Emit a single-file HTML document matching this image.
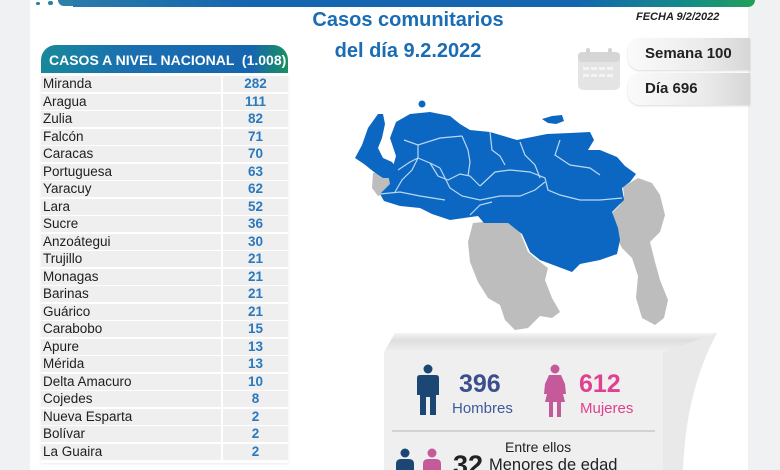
<!DOCTYPE html>
<html><head><meta charset="utf-8">
<style>
*{margin:0;padding:0;box-sizing:border-box}
html,body{width:780px;height:470px;overflow:hidden}
body{background:#f0f1f3;font-family:"Liberation Sans",sans-serif;position:relative}
.abs{position:absolute}
#card{left:30px;top:0;width:718px;height:470px;background:#fff}
#topbar{left:33px;top:0;width:722px;height:7px;background:linear-gradient(90deg,#2f7fa8 0%,#1565b0 30%,#1565b0 75%,#138a8a 90%,#22a05a 100%);border-radius:0 0 8px 0}
.title{color:#1a6cb4;font-weight:bold;font-size:20px;text-align:center;width:300px;left:258px}
#hdr{left:41px;top:45px;width:247px;height:28px;border-radius:15px 15px 0 0;background:linear-gradient(90deg,#17899a 0%,#1a6fb0 35%,#1566b0 85%,#1a9060 100%);color:#fff;font-weight:bold;font-size:14px;line-height:30px;padding-left:8px;white-space:pre}
.row{left:41px;width:247px;height:16px;font-size:13.5px;color:#1e1e1e;line-height:16px}
.row .n{position:absolute;left:0;top:0;width:180px;height:16px;background:#efefef;padding-left:2px}
.row .v{position:absolute;left:182px;top:0;width:65px;height:16px;background:#efefef;text-align:center;font-weight:bold;color:#2a78bd}
.box{left:628px;width:122px;height:32px;border-radius:12px 0 0 12px;background:linear-gradient(90deg,#fafafa 0%,#ececec 60%,#d6d6d6 100%);box-shadow:0 1px 2px rgba(0,0,0,.15);font-weight:bold;font-size:15px;color:#222;line-height:32px}
</style></head><body>
<div id="card" class="abs"></div>
<div id="topbar" class="abs"></div>
<div class="abs" style="left:33px;top:0;width:40px;height:7px;background:#fff"></div>
<div class="abs" style="left:36px;top:2px;width:4px;height:3px;background:#2f7fa8;border-radius:2px"></div>
<div class="abs" style="left:48px;top:1px;width:5px;height:4px;background:#2f7fa8;border-radius:2px"></div>
<div class="abs" style="left:58px;top:0;width:15px;height:6px;background:#2f7fa8;border-radius:0 0 0 6px"></div>

<div class="abs title" style="top:9px">Casos comunitarios</div>
<div class="abs title" style="top:40px">del día 9.2.2022</div>
<div class="abs" style="left:636px;top:11px;font-size:11px;font-weight:bold;font-style:italic;color:#222">FECHA 9/2/2022</div>

<!-- calendar icon -->
<svg class="abs" style="left:576px;top:46px" width="46" height="46" viewBox="0 0 46 46">
<rect x="2" y="6" width="42" height="38" rx="5" fill="#e4e4e4"/>
<rect x="2" y="6" width="42" height="10" rx="4" fill="#d6d6d6"/>
<rect x="10" y="2" width="4" height="9" rx="2" fill="#d4d4d4"/>
<rect x="32" y="2" width="4" height="9" rx="2" fill="#d4d4d4"/>
<g fill="#f4f4f4"><rect x="7" y="21" width="6" height="3"/><rect x="15" y="21" width="6" height="3"/><rect x="23" y="21" width="6" height="3"/><rect x="31" y="21" width="6" height="3"/>
<rect x="7" y="28" width="6" height="3"/><rect x="15" y="28" width="6" height="3"/><rect x="23" y="28" width="6" height="3"/><rect x="31" y="28" width="6" height="3"/></g>
</svg>
<div class="abs box" style="top:38px;padding-left:17px">Semana 100</div>
<div class="abs box" style="top:73px;padding-left:17px">Día 696</div>

<!-- table -->
<div id="hdr" class="abs">CASOS A NIVEL NACIONAL  (1.008)</div>
<div class="abs" style="left:41px;top:74px;width:247px;height:389px;background:#fff;box-shadow:0 1px 3px rgba(0,0,0,.08)"></div>
<div class="abs row" style="top:76px"><div class="n">Miranda</div><div class="v">282</div></div>
<div class="abs row" style="top:93.5px"><div class="n">Aragua</div><div class="v">111</div></div>
<div class="abs row" style="top:111px"><div class="n">Zulia</div><div class="v">82</div></div>
<div class="abs row" style="top:128.5px"><div class="n">Falcón</div><div class="v">71</div></div>
<div class="abs row" style="top:146px"><div class="n">Caracas</div><div class="v">70</div></div>
<div class="abs row" style="top:163.5px"><div class="n">Portuguesa</div><div class="v">63</div></div>
<div class="abs row" style="top:181px"><div class="n">Yaracuy</div><div class="v">62</div></div>
<div class="abs row" style="top:198.5px"><div class="n">Lara</div><div class="v">52</div></div>
<div class="abs row" style="top:216px"><div class="n">Sucre</div><div class="v">36</div></div>
<div class="abs row" style="top:233.5px"><div class="n">Anzoátegui</div><div class="v">30</div></div>
<div class="abs row" style="top:251px"><div class="n">Trujillo</div><div class="v">21</div></div>
<div class="abs row" style="top:268.5px"><div class="n">Monagas</div><div class="v">21</div></div>
<div class="abs row" style="top:286px"><div class="n">Barinas</div><div class="v">21</div></div>
<div class="abs row" style="top:303.5px"><div class="n">Guárico</div><div class="v">21</div></div>
<div class="abs row" style="top:321px"><div class="n">Carabobo</div><div class="v">15</div></div>
<div class="abs row" style="top:338.5px"><div class="n">Apure</div><div class="v">13</div></div>
<div class="abs row" style="top:356px"><div class="n">Mérida</div><div class="v">13</div></div>
<div class="abs row" style="top:373.5px"><div class="n">Delta Amacuro</div><div class="v">10</div></div>
<div class="abs row" style="top:391px"><div class="n">Cojedes</div><div class="v">8</div></div>
<div class="abs row" style="top:408.5px"><div class="n">Nueva Esparta</div><div class="v">2</div></div>
<div class="abs row" style="top:426px"><div class="n">Bolívar</div><div class="v">2</div></div>
<div class="abs row" style="top:443.5px"><div class="n">La Guaira</div><div class="v">2</div></div>

<!-- map -->
<svg class="abs" style="left:0;top:0" width="780" height="470" viewBox="0 0 780 470">
<defs>
<linearGradient id="tf" x1="0" y1="0" x2="0" y2="1">
<stop offset="0" stop-color="#f4f4f4"/><stop offset="0.4" stop-color="#dedede"/><stop offset="1" stop-color="#f0f0f0"/>
</linearGradient>
</defs>
<g fill="#bdbdbd">
<path d="M373,173 L388,172 L392,182 L388,192 L378,196 L372,188 Z"/>
<path d="M473,223 L483,222 L508,223 L520,232 L528,252 L540,262 L548,268 L545,280 L552,298 L560,312 L552,318 L540,316 L528,328 L515,330 L505,320 L500,305 L488,298 L478,282 L470,262 L468,242 Z"/>
<path d="M623,187 L638,178 L652,183 L660,195 L665,215 L660,232 L650,242 L655,262 L660,280 L668,300 L664,318 L655,325 L642,318 L636,298 L638,276 L632,258 L622,248 L615,235 L610,215 L620,205 L624,196 Z"/>
</g>
<g fill="#0b67c2">
<path d="M355,158 L362,145 L368,128 L378,114 L383,114 L385,124 L382,138 L378,148 L383,158 L392,162 L398,170 L394,178 L383,178 L374,172 L364,164 Z"/>
<path d="M392,170 L396,156 L390,138 L396,122 L410,114 L430,112 L450,116 L460,124 L470,130 L490,132 L517,140 L547,134 L570,133 L590,132 L594,140 L588,150 L600,150 L617,157 L625,166 L636,174 L630,182 L622,188 L624,200 L612,212 L618,228 L620,240 L617,254 L600,260 L580,264 L572,272 L556,266 L540,260 L530,252 L522,234 L508,223 L484,223 L478,216 L450,220 L432,214 L420,208 L400,206 L384,201 L380,194 L390,184 L388,174 Z"/>
<path d="M542,119 L552,116 L562,115 L564,121 L556,124 L548,123 Z"/>
<circle cx="422" cy="104" r="3.5"/>
</g>
<g fill="none" stroke="#cfe4f7" stroke-width="1.2" opacity="0.9">
<path d="M398,170 L410,162 L418,158 L430,163 L440,168"/>
<path d="M404,140 L418,145 L440,138 L462,136"/>
<path d="M418,145 L418,158 L412,170 L402,180 L395,192"/>
<path d="M430,163 L438,176 L448,180 L460,174 L470,176 L480,186"/>
<path d="M462,136 L468,150 L470,162 L468,176"/>
<path d="M440,168 L450,188 L462,196 L480,200 L500,196 L520,196 L535,190 L545,182"/>
<path d="M480,186 L495,172 L510,170 L530,172 L545,178 L548,190 L560,195 L580,200 L600,200 L622,198"/>
<path d="M490,132 L492,150 L500,156 L505,165"/>
<path d="M520,142 L525,155 L535,165 L540,178"/>
<path d="M560,140 L555,155 L570,165 L590,168 L600,175"/>
<path d="M470,215 L480,205 L492,202"/>
<path d="M380,194 L400,192 L420,196 L445,200"/>
</g>
<!-- bottom 3D box -->
<path d="M395,333 L717,333 L690,352 L384,352 Z" fill="url(#tf)"/>
<path d="M717,333 L663,352 L663,470 L683,470 Q686,390 717,333 Z" fill="#e9e9e9"/>
<rect x="384" y="352" width="279" height="118" fill="#efefef"/>
<line x1="392" y1="431" x2="655" y2="431" stroke="#c9c9c9" stroke-width="1.5"/>
<!-- man -->
<g fill="#1c4673">
<circle cx="428" cy="369" r="4.5"/>
<path d="M420,375 L436,375 Q439,375 439,378 L439,395 L436,395 L436,415 L430,415 L430,397 L426,397 L426,415 L420,415 L420,395 L417,395 L417,378 Q417,375 420,375 Z"/>
</g>
<!-- woman -->
<g fill="#c45a9a">
<circle cx="555" cy="369" r="4.5"/>
<path d="M549,375 L561,375 L565,384 L566,394 L563,394 L565,402 L561,402 L561,417 L557,417 L557,402 L553,402 L553,417 L549,417 L549,402 L545,402 L547,394 L544,394 L545,384 Z"/>
</g>
<!-- small people -->
<circle cx="405" cy="453" r="4.5" fill="#1c4673"/>
<path d="M396,470 L396,464 Q396,459 401,459 L409,459 Q414,459 414,464 L414,470 Z" fill="#1c4673"/>
<circle cx="432" cy="453" r="4.5" fill="#c45a9a"/>
<path d="M423,470 L423,464 Q423,459 428,459 L436,459 Q441,459 441,464 L441,470 Z" fill="#c45a9a"/>
</svg>

<div class="abs" style="left:459px;top:370px;font-size:25px;font-weight:bold;color:#3a4f8c">396</div>
<div class="abs" style="left:452px;top:400px;font-size:15px;color:#3d5a99">Hombres</div>
<div class="abs" style="left:579px;top:370px;font-size:25px;font-weight:bold;color:#e0408f">612</div>
<div class="abs" style="left:580px;top:400px;font-size:15px;color:#e0408f">Mujeres</div>
<div class="abs" style="left:505px;top:439px;font-size:14px;color:#222">Entre ellos</div>
<div class="abs" style="left:453px;top:450px;font-size:27px;font-weight:bold;color:#222">32</div>
<div class="abs" style="left:489px;top:456px;font-size:16.5px;color:#222">Menores de edad</div>
</body></html>
